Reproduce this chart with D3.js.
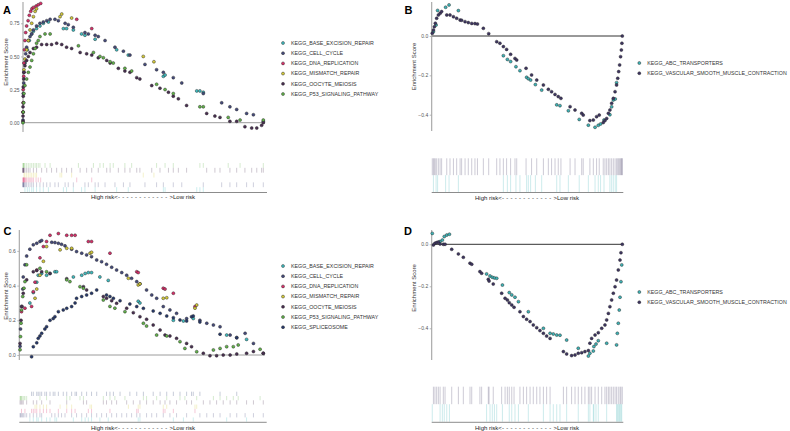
<!DOCTYPE html>
<html>
<head>
<meta charset="utf-8">
<script src="https://cdn.jsdelivr.net/npm/d3@7"></script>
<style>
body { margin: 0; background: #fff; }
svg { display: block; font-family: "Liberation Sans", Arial, Helvetica, sans-serif; }
</style>
</head>
<body>
<svg id="chart" width="790" height="431"></svg>
<script>
// pathway names
var keggSix = ["KEGG_BASE_EXCISION_REPAIR", "KEGG_CELL_CYCLE", "KEGG_DNA_REPLICATION",
  "KEGG_MISMATCH_REPAIR", "KEGG_OOCYTE_MEIOSIS", "KEGG_P53_SIGNALING_PATHWAY"];
var keggSeven = keggSix.concat(["KEGG_SPLICEOSOME"]);
var keggTwo = ["KEGG_ABC_TRANSPORTERS", "KEGG_VASCULAR_SMOOTH_MUSCLE_CONTRACTION"];

var ticksA = [0, 0.25, 0.5, 0.75];
var ticksB = [0, -0.2, -0.4];
var ticksC = [0, 0.2, 0.4, 0.6];
var ticksD = [0, -0.2, -0.4];

// [rank in % of gene list, running enrichment score]
// ---- A ----
var aBaseExcision = [[0.8,0.45],[1.8,0.55],[2.6,0.62],[3.6,0.67],[4.3,0.69],[5.6,0.71],[7.0,0.73],[8.4,0.75],[10.5,0.76],[16.7,0.71],[18.0,0.71],[20.8,0.70],[24.2,0.67],[25.6,0.66],[29.8,0.63],[38.7,0.55],[43.5,0.51],[58.0,0.35],[58.7,0.36],[71.8,0.24],[73.1,0.24],[74.5,0.23]];
var aCellCycle = [[0,0.02],[0,0.08],[0.1,0.15],[0.1,0.22],[0.3,0.30],[0.4,0.38],[0.7,0.45],[1.1,0.52],[1.5,0.57],[2.2,0.62],[2.9,0.65],[3.6,0.67],[4.3,0.70],[5.6,0.73],[7.0,0.75],[8.4,0.76],[9.8,0.77],[11.2,0.78],[13.2,0.78],[14.6,0.77],[17.4,0.75],[18.7,0.74],[20.8,0.72],[25.6,0.68],[27.0,0.67],[29.8,0.66],[31.1,0.65],[33.9,0.62],[38.0,0.57],[41.5,0.54],[44.2,0.51],[50.4,0.44],[55.2,0.40],[58.0,0.38],[62.1,0.34],[65.6,0.30],[74.5,0.22],[82.1,0.15],[85.5,0.12],[88.3,0.10],[92.4,0.07],[95.2,0.06],[99.3,0.01]];
var aDnaReplication = [[0,0.08],[0.1,0.15],[0.1,0.25],[0.3,0.35],[0.4,0.45],[0.6,0.55],[0.8,0.62],[1.1,0.68],[1.5,0.73],[2.1,0.77],[2.6,0.81],[3.2,0.84],[3.7,0.86],[4.3,0.87],[5.4,0.88],[6.3,0.89],[7.3,0.90],[22.2,0.78],[28.4,0.71]];
var aMismatchRepair = [[0.4,0.40],[0.8,0.48],[1.5,0.55],[2.2,0.62],[2.9,0.70],[3.6,0.75],[4.3,0.80],[5.0,0.84],[5.6,0.86],[15.3,0.80],[16.0,0.82],[20.1,0.79],[49.7,0.50],[54.1,0.46]];
var aOocyteMeiosis = [[0,0.01],[0,0.05],[0,0.12],[0.1,0.20],[0.1,0.27],[0.3,0.33],[0.4,0.38],[0.8,0.43],[1.5,0.47],[2.2,0.50],[2.9,0.53],[4.3,0.56],[5.6,0.57],[7.7,0.59],[9.8,0.59],[11.8,0.59],[13.9,0.60],[16.0,0.59],[18.0,0.57],[20.1,0.56],[23.6,0.53],[26.3,0.52],[28.4,0.51],[31.1,0.49],[34.6,0.47],[36.0,0.45],[39.4,0.41],[42.1,0.39],[44.2,0.38],[47.0,0.34],[48.3,0.33],[53.2,0.28],[56.6,0.26],[60.1,0.23],[62.1,0.20],[64.2,0.18],[67.6,0.13],[75.9,0.07],[79.3,0.05],[81.4,0.04],[85.5,0.01],[88.3,0.01],[91.7,-0.03],[94.5,-0.04],[96.6,-0.04],[98.6,-0.02],[99.3,0.0]];
var aP53 = [[0,0.0],[0.1,0.08],[0.3,0.15],[0.4,0.22],[0.8,0.28],[1.5,0.33],[2.2,0.38],[2.9,0.42],[3.6,0.47],[4.3,0.52],[5.0,0.56],[5.6,0.60],[6.3,0.62],[7.0,0.65],[9.1,0.67],[11.2,0.67],[22.9,0.58],[29.1,0.53],[31.8,0.50],[33.2,0.49],[36.0,0.46],[37.3,0.45],[42.1,0.41],[44.9,0.39],[55.2,0.29],[58.7,0.25],[62.1,0.22],[73.1,0.12],[74.5,0.12],[84.8,0.04],[89.7,0.02],[99.3,0.02]];

// ---- B ----
var bAbc = [[0.9,0.022],[2.3,0.056],[3.1,0.13],[7.3,0.146],[9.1,0.158],[14.0,0.129],[37.6,-0.10],[39.7,-0.119],[41.4,-0.13],[44.2,-0.156],[46.3,-0.176],[49.8,-0.21],[50.7,-0.217],[51.9,-0.224],[54.4,-0.247],[57.7,-0.275],[65.6,-0.35],[67.3,-0.354],[71.7,-0.38],[77.4,-0.424],[82.2,-0.453],[85.7,-0.464],[87.4,-0.454],[88.6,-0.447],[90.4,-0.427],[93.5,-0.40],[94.4,-0.36],[95.3,-0.325],[96.3,-0.32],[97.0,-0.237]];
var bVascular = [[0.3,0.014],[0.9,0.03],[1.4,0.047],[1.9,0.065],[2.6,0.09],[3.5,0.107],[4.4,0.115],[5.2,0.124],[7.9,0.107],[9.6,0.107],[11.4,0.098],[13.1,0.09],[14.9,0.081],[15.7,0.08],[17.5,0.073],[19.2,0.068],[21.0,0.064],[22.7,0.063],[24.0,0.061],[27.1,0.039],[29.9,0.012],[34.1,-0.029],[35.8,-0.037],[37.6,-0.054],[39.3,-0.068],[41.4,-0.093],[43.7,-0.114],[44.6,-0.122],[49.5,-0.164],[52.4,-0.198],[55.1,-0.224],[58.6,-0.249],[61.2,-0.271],[62.9,-0.283],[64.7,-0.297],[66.4,-0.308],[67.8,-0.317],[72.6,-0.359],[75.2,-0.376],[78.7,-0.393],[79.5,-0.402],[83.0,-0.43],[84.8,-0.427],[86.5,-0.41],[87.9,-0.402],[90.0,-0.44],[90.9,-0.43],[91.8,-0.419],[92.7,-0.393],[93.5,-0.376],[94.4,-0.342],[95.3,-0.317],[96.2,-0.283],[97.0,-0.249],[97.6,-0.215],[98.1,-0.181],[98.6,-0.147],[99.1,-0.105],[99.5,-0.071],[99.8,-0.037],[100,0]];

// ---- C ----
var cBaseExcision = [[4.3,0.30],[5.7,0.36],[7.1,0.42],[7.7,0.46],[9.1,0.47],[11.1,0.46],[12.5,0.47],[14.5,0.48],[15.2,0.48],[22.0,0.45],[25.4,0.46],[26.8,0.47],[28.1,0.475],[29.4,0.475],[32.8,0.45],[36.2,0.43],[48.4,0.31],[49.1,0.30],[62.7,0.20],[66.8,0.196],[70.8,0.21],[84.4,0.115],[92.5,0.09]];
var cCellCycle = [[0.3,0.05],[0.5,0.15],[0.9,0.28],[1.4,0.38],[1.6,0.45],[2.3,0.52],[3.0,0.57],[4.3,0.61],[5.7,0.635],[7.1,0.644],[8.4,0.654],[9.1,0.66],[13.2,0.65],[14.5,0.648],[15.9,0.644],[17.2,0.638],[18.6,0.629],[21.3,0.61],[23.3,0.596],[25.4,0.587],[27.4,0.577],[29.4,0.567],[31.5,0.548],[33.5,0.538],[35.5,0.523],[37.6,0.506],[39.6,0.49],[41.7,0.475],[43.7,0.46],[45.7,0.442],[47.8,0.423],[49.1,0.41],[51.8,0.375],[53.9,0.346],[55.9,0.327],[58.6,0.279],[61.3,0.26],[64.0,0.24],[68.1,0.21],[73.5,0.20],[76.3,0.183],[79.0,0.173],[81.7,0.163],[85.8,0.115],[88.5,0.10],[91.9,0.125],[95.3,0.067],[99.3,0.01]];
var cDnaReplication = [[0.9,0.25],[2.3,0.27],[5.0,0.28],[5.7,0.365],[6.4,0.42],[7.1,0.49],[8.4,0.56],[9.8,0.625],[11.1,0.654],[12.5,0.69],[15.9,0.70],[19.3,0.69],[21.3,0.69],[22.7,0.69],[28.1,0.654],[29.4,0.654],[36.9,0.587],[47.8,0.48],[48.4,0.475],[58.6,0.385],[59.3,0.38],[62.7,0.356],[71.5,0.279]];
var cMismatchRepair = [[6.4,0.327],[7.1,0.38],[8.4,0.46],[9.8,0.54],[11.1,0.625],[16.6,0.606],[19.3,0.615],[21.3,0.615],[28.8,0.587],[29.4,0.592],[44.4,0.442],[48.4,0.404],[49.1,0.41],[58.6,0.327],[60.0,0.33],[71.5,0.27],[72.2,0.288]];
var cOocyteMeiosis = [[0.3,0.067],[0.7,0.2],[1.1,0.28],[1.6,0.356],[3.0,0.433],[5.7,0.48],[7.1,0.487],[9.1,0.48],[12.5,0.47],[19.3,0.44],[26.1,0.394],[27.4,0.375],[34.2,0.337],[35.5,0.327],[37.6,0.313],[39.6,0.298],[43.7,0.27],[46.4,0.244],[49.1,0.221],[51.8,0.206],[54.5,0.173],[57.3,0.144],[59.3,0.115],[61.3,0.11],[64.0,0.096],[68.1,0.067],[70.1,0.048],[74.9,0.01],[77.6,-0.004],[80.3,-0.004],[83.0,0.0],[85.8,0.0],[88.5,0.006],[92.5,0.01],[95.3,0.02],[99.3,0.01]];
var cP53 = [[0.3,0.03],[0.5,0.106],[0.7,0.183],[0.9,0.26],[1.4,0.337],[1.9,0.385],[2.3,0.423],[3.0,0.52],[8.4,0.50],[11.1,0.48],[19.3,0.433],[20.6,0.423],[24.7,0.394],[26.1,0.385],[34.2,0.317],[36.9,0.28],[38.9,0.27],[43.0,0.25],[50.5,0.183],[51.8,0.167],[55.9,0.115],[60.0,0.11],[65.4,0.077],[67.4,0.038],[72.2,0.019],[79.0,0.029],[81.7,0.038],[84.4,0.048],[87.1,0.048],[89.1,0.058],[98.0,0.033]];
var cSpliceosome = [[5.0,-0.01],[5.7,0.048],[7.1,0.07],[7.7,0.096],[8.4,0.11],[9.1,0.125],[10.4,0.15],[11.1,0.163],[12.5,0.20],[13.8,0.21],[14.5,0.221],[15.9,0.25],[17.9,0.26],[19.3,0.269],[21.3,0.279],[22.7,0.30],[23.3,0.327],[25.4,0.337],[27.4,0.346],[29.4,0.356],[31.5,0.375],[35.5,0.346],[36.9,0.337],[38.3,0.327],[41.0,0.313],[45.0,0.294],[47.8,0.279],[50.5,0.269],[54.5,0.254],[57.3,0.24],[60.0,0.225],[62.7,0.215],[65.4,0.202],[68.1,0.196],[70.1,0.221],[70.8,0.225],[73.5,0.19],[81.7,0.12],[88.5,0.10]];

// ---- D ----
var dAbc = [[0.3,0.052],[4.4,0.013],[5.6,0.02],[6.6,0.037],[7.9,0.044],[9.3,0.048],[28.8,-0.141],[30.6,-0.151],[31.8,-0.157],[32.9,-0.16],[34.1,-0.162],[37.1,-0.194],[40.7,-0.23],[42.0,-0.241],[43.7,-0.252],[45.5,-0.273],[50.7,-0.321],[58.6,-0.40],[62.1,-0.424],[63.8,-0.427],[65.6,-0.432],[67.3,-0.433],[70.8,-0.456],[76.9,-0.495],[82.2,-0.532],[83.0,-0.519],[84.8,-0.508],[85.1,-0.487],[86.2,-0.475],[87.4,-0.459],[91.8,-0.471],[97.0,-0.479],[97.4,-0.424],[97.9,-0.376],[98.4,-0.313],[98.8,-0.252],[99.3,-0.178],[99.7,-0.098]];
var dVascular = [[0.9,-0.003],[1.7,0.005],[2.6,0.008],[3.5,0.011],[4.4,0.002],[6.1,0.0],[7.0,0.0],[10.5,-0.024],[14.0,-0.046],[16.6,-0.062],[20.1,-0.09],[21.0,-0.095],[25.3,-0.13],[26.2,-0.138],[29.7,-0.167],[30.1,-0.175],[32.3,-0.189],[36.7,-0.233],[38.5,-0.257],[39.7,-0.265],[40.7,-0.278],[42.0,-0.289],[43.2,-0.3],[46.3,-0.321],[48.1,-0.344],[49.8,-0.357],[51.6,-0.368],[53.3,-0.384],[55.1,-0.397],[56.8,-0.411],[58.6,-0.424],[60.3,-0.437],[62.1,-0.448],[69.1,-0.511],[70.8,-0.522],[73.4,-0.53],[75.2,-0.527],[76.9,-0.519],[78.7,-0.516],[80.4,-0.511],[82.2,-0.506],[83.0,-0.471],[83.9,-0.448],[85.7,-0.432],[87.4,-0.421],[89.2,-0.4],[90.9,-0.384],[91.8,-0.36],[92.7,-0.329],[93.5,-0.297],[94.4,-0.265],[95.3,-0.233],[96.2,-0.202],[97.0,-0.17],[97.9,-0.122],[98.8,-0.075],[99.3,-0.04],[100,0]];

var colours = {
  "KEGG_BASE_EXCISION_REPAIR": "#3fbcc0",
  "KEGG_CELL_CYCLE": "#454b7c",
  "KEGG_DNA_REPLICATION": "#d8306a",
  "KEGG_MISMATCH_REPAIR": "#d3c93a",
  "KEGG_OOCYTE_MEIOSIS": "#4a2f52",
  "KEGG_P53_SIGNALING_PATHWAY": "#62b34a",
  "KEGG_SPLICEOSOME": "#26396c",
  "KEGG_ABC_TRANSPORTERS": "#3db3b6",
  "KEGG_VASCULAR_SMOOTH_MUSCLE_CONTRACTION": "#3e3562"
};

var panels = [
  {letter: "A", names: keggSix, series: [aBaseExcision, aCellCycle, aDnaReplication, aMismatchRepair, aOocyteMeiosis, aP53],
   ticks: ticksA, fmt: ".2f", refEs: 0.75, yAt0: 122.7, yAtRef: 23.3, x0: 23, x1: 265, top: 2, bottom: 132,
   zero: "#9c9c9c", hitTop: 163, hitBottom: 192, baseY: 192.5, baseX0: 20, baseX1: 267, labelX: 143, labelY: 199,
   letterX: 3, letterY: 13.5, titleX: 7.5, titleY: 62, legX: 283, legY: 43},
  {letter: "B", names: keggTwo, series: [bAbc, bVascular],
   ticks: ticksB, fmt: ".1f", refEs: -0.4, yAt0: 36, yAtRef: 114.7, x0: 431.7, x1: 622.3, top: 2, bottom: 131,
   zero: "#333", hitTop: 158.3, hitBottom: 192, baseY: 192.5, baseX0: 431.7, baseX1: 623.3, labelX: 527, labelY: 199.5,
   letterX: 404.5, letterY: 13.5, titleX: 415.5, titleY: 66.5, legX: 639.3, legY: 63},
  {letter: "C", names: keggSeven, series: [cBaseExcision, cCellCycle, cDnaReplication, cMismatchRepair, cOocyteMeiosis, cP53, cSpliceosome],
   ticks: ticksC, fmt: ".1f", refEs: 0.6, yAt0: 355, yAtRef: 250.9, x0: 19.3, x1: 265, top: 230, bottom: 360,
   zero: "#9c9c9c", hitTop: 391.7, hitBottom: 421.7, baseY: 422.3, baseX0: 19.3, baseX1: 266.7, labelX: 143, labelY: 429.5,
   letterX: 3.5, letterY: 234.5, titleX: 7.5, titleY: 296, legX: 283, legY: 266},
  {letter: "D", names: keggTwo, series: [dAbc, dVascular],
   ticks: ticksD, fmt: ".1f", refEs: -0.4, yAt0: 244.3, yAtRef: 328.3, x0: 431.7, x1: 622.3, top: 230, bottom: 360,
   zero: "#333", hitTop: 386.7, hitBottom: 421.7, baseY: 422.3, baseX0: 431.7, baseX1: 623.3, labelX: 527, labelY: 429.5,
   letterX: 404, letterY: 235, titleX: 415.5, titleY: 288, legX: 639.3, legY: 292}
];

var svg = d3.select("#chart");

panels.forEach(function(p) {
  var g = svg.append("g").attr("class", "panel panel-" + p.letter);

  var x = d3.scaleLinear().domain([0, 100]).range([p.x0, p.x1]);
  var y = d3.scaleLinear().domain([0, p.refEs]).range([p.yAt0, p.yAtRef]);

  // zero line
  g.append("line")
    .attr("x1", p.x0).attr("x2", p.x1)
    .attr("y1", y(0)).attr("y2", y(0))
    .attr("stroke", p.zero).attr("stroke-width", 1);

  // y axis
  var yAxis = g.append("g")
    .attr("transform", "translate(" + p.x0 + ",0)")
    .call(d3.axisLeft(y).tickValues(p.ticks).tickSize(2).tickPadding(1.5).tickFormat(d3.format(p.fmt)));
  yAxis.select(".domain").remove();
  yAxis.selectAll(".tick line").attr("stroke", "#8a8a8a").attr("stroke-width", 0.6);
  yAxis.selectAll(".tick text").attr("fill", "#555").style("font-size", "5px");
  g.append("line")
    .attr("x1", p.x0).attr("x2", p.x0)
    .attr("y1", p.top).attr("y2", p.bottom)
    .attr("stroke", "#a3a3a3").attr("stroke-width", 1.1);

  g.append("text")
    .attr("transform", "translate(" + p.titleX + "," + p.titleY + ") rotate(-90)")
    .attr("text-anchor", "middle")
    .attr("fill", "#333")
    .style("font-size", "6px")
    .text("Enrichment Score");

  g.append("text")
    .attr("x", p.letterX).attr("y", p.letterY)
    .style("font-size", "11px").style("font-weight", "bold")
    .text(p.letter);

  // running score points
  p.series.forEach(function(s, i) {
    g.append("g").selectAll("circle")
      .data(s)
      .enter().append("circle")
        .attr("cx", function(d) { return x(d[0]); })
        .attr("cy", function(d) { return y(d[1]); })
        .attr("r", 1.5)
        .attr("fill", colours[p.names[i]])
        .attr("stroke", "#262626")
        .attr("stroke-width", 0.45);
  });

  // hit barcode, one row per set, last set on top
  var n = p.series.length;
  var rowH = (p.hitBottom - p.hitTop) / n;
  p.series.forEach(function(s, i) {
    var row = n - 1 - i;
    g.append("g").selectAll("line")
      .data(s)
      .enter().append("line")
        .attr("x1", function(d) { return x(d[0]); })
        .attr("x2", function(d) { return x(d[0]); })
        .attr("y1", p.hitTop + row * rowH)
        .attr("y2", p.hitTop + (row + 1) * rowH)
        .attr("stroke", colours[p.names[i]])
        .attr("stroke-opacity", 0.35)
        .attr("stroke-width", 0.75);
  });

  g.append("line")
    .attr("x1", p.baseX0).attr("x2", p.baseX1)
    .attr("y1", p.baseY).attr("y2", p.baseY)
    .attr("stroke", "#8c8c8c").attr("stroke-width", 1);

  var lab = g.append("text")
    .attr("x", p.labelX).attr("y", p.labelY)
    .attr("text-anchor", "middle")
    .attr("fill", "#222")
    .style("font-size", "6px");
  lab.append("tspan").text("High risk<");
  lab.append("tspan").style("letter-spacing", "2.3px").text("------------");
  lab.append("tspan").text(">Low risk");

  // legend
  var leg = g.append("g").selectAll("g")
    .data(p.names)
    .enter().append("g")
      .attr("transform", function(d, i) { return "translate(" + p.legX + "," + (p.legY + i * 10.2) + ")"; });
  leg.append("circle")
    .attr("r", 1.5)
    .attr("fill", function(d) { return colours[d]; })
    .attr("stroke", "#262626").attr("stroke-width", 0.45);
  leg.append("text")
    .attr("x", 8).attr("dy", "0.35em")
    .attr("fill", "#333")
    .style("font-size", "5.3px")
    .text(function(d) { return d; });
});
</script>
</body>
</html>
